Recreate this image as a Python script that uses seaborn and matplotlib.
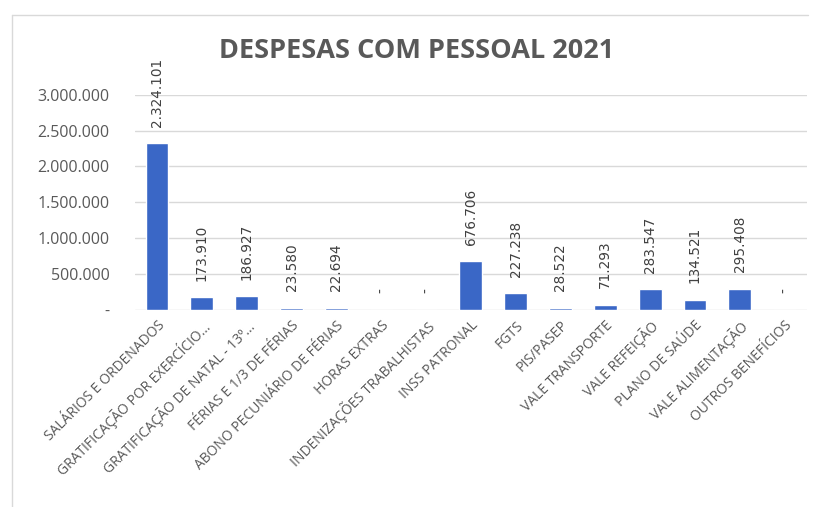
import matplotlib
matplotlib.use("Agg")
import matplotlib.pyplot as plt
import matplotlib.ticker as mticker
from matplotlib.lines import Line2D
import pandas as pd
import seaborn as sns

# despesas com pessoal 2021
categorias = [
    "SALÁRIOS E ORDENADOS",
    "GRATIFICAÇÃO POR EXERCÍCIO...",
    "GRATIFICAÇÃO DE NATAL - 13º...",
    "FÉRIAS E 1/3 DE FÉRIAS",
    "ABONO PECUNIÁRIO DE FÉRIAS",
    "HORAS EXTRAS",
    "INDENIZAÇÕES TRABALHISTAS",
    "INSS PATRONAL",
    "FGTS",
    "PIS/PASEP",
    "VALE TRANSPORTE",
    "VALE REFEIÇÃO",
    "PLANO DE SAÚDE",
    "VALE ALIMENTAÇÃO",
    "OUTROS BENEFÍCIOS",
]
valores = [2324101, 173910, 186927, 23580, 22694, 0, 0, 676706,
           227238, 28522, 71293, 283547, 134521, 295408, 0]
yticks = [0, 500000, 1000000, 1500000, 2000000, 2500000, 3000000]

df = pd.DataFrame({"categoria": categorias, "valor": valores})

def br(v):
    if v == 0:
        return "-"
    return f"{v:,.0f}".replace(",", ".")

sns.set_theme(style="white")
plt.rcParams["font.family"] = ["Open Sans", "DejaVu Sans"]

fig = plt.figure(figsize=(8.16, 5.07), dpi=100)
ax = fig.add_axes([0.165, 0.389, 0.824, 0.424])

sns.barplot(data=df, x="categoria", y="valor", color="#3A67C6",
            width=0.51, saturation=1, ax=ax)

ax.set_ylim(0, 3000000)
ax.set_xlim(-0.5, len(categorias) - 0.5)
ax.set_yticks(yticks)
ax.yaxis.set_major_formatter(mticker.FuncFormatter(lambda v, p: br(v)))
ax.grid(axis="y", color="#D9D9D9", linewidth=1)
ax.set_axisbelow(True)
for s in ax.spines.values():
    s.set_visible(False)
ax.set_xlabel("")
ax.set_ylabel("")
ax.tick_params(axis="y", labelsize=11.5, colors="#595959", pad=18, length=0)
ax.tick_params(axis="x", length=0, pad=6)
ax.set_xticks(range(len(categorias)))
ax.set_xticklabels(categorias, rotation=45, ha="right",
                   rotation_mode="anchor", fontsize=10, color="#595959")

# value labels, rotated like in Excel
for i, v in enumerate(valores):
    ax.annotate(br(v), (i, v), xytext=(0, 12), textcoords="offset points",
                rotation=90, ha="center", va="bottom", fontsize=9.8,
                color="#404040", family="DejaVu Sans", annotation_clip=False)

fig.text(0.511, 0.90, "DESPESAS COM PESSOAL 2021", ha="center", va="center",
         fontsize=19.5, fontweight="bold", color="#595959")

# chart area border (top and left visible in the screenshot)
fig.add_artist(Line2D([0.015, 0.99], [0.97, 0.97], color="#D9D9D9", lw=1))
fig.add_artist(Line2D([0.015, 0.015], [0.0, 0.97], color="#D9D9D9", lw=1))

fig.savefig("out.png", dpi=100, facecolor="white")
